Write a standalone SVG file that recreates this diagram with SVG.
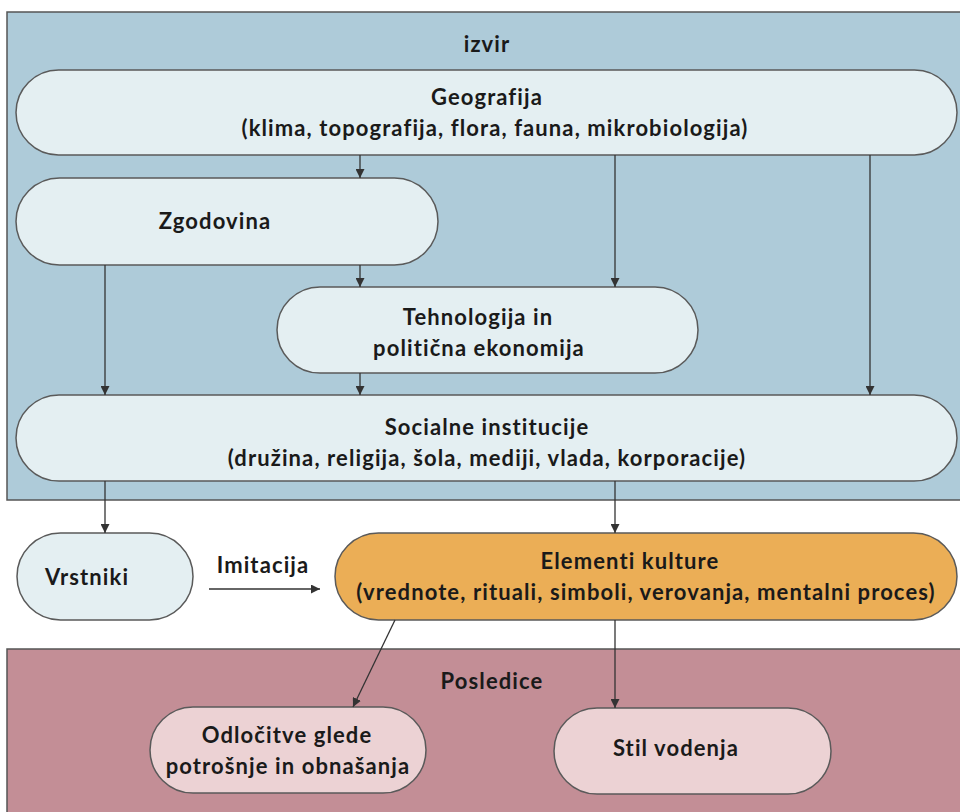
<svg xmlns="http://www.w3.org/2000/svg" width="960" height="812" viewBox="0 0 960 812">
<defs>
<marker id="ah" viewBox="0 0 10 10" refX="10" refY="5" markerWidth="9" markerHeight="9" markerUnits="userSpaceOnUse" orient="auto">
<path d="M0,0 L10,5 L0,10 z" fill="#333"/>
</marker>
<style>
.panel{stroke:#555;stroke-width:1.5}
.pill{fill:#E4EFF2;stroke:#5a5a5a;stroke-width:1.5}
.pink{fill:#ECD2D4;stroke:#5a5a5a;stroke-width:1.5}
.orange{fill:#EBAE56;stroke:#5a5a5a;stroke-width:1.5}
text{font-family:Lato,"Open Sans","Liberation Sans",sans-serif;font-weight:700;font-size:22px;letter-spacing:1.1px;fill:#1a1a1a;font-variant-ligatures:none;font-feature-settings:"liga" 0}
.c{text-anchor:middle}
.conn line{stroke:#333;stroke-width:1.3;marker-end:url(#ah)}
</style>
</defs>
<rect x="7" y="12" width="960" height="488" fill="#AECBD9" class="panel"/>
<rect x="7" y="649" width="960" height="170" fill="#C38E96" class="panel"/>
<text x="487" y="52" class="c">izvir</text>
<text x="492" y="689" class="c">Posledice</text>
<g id="geografija">
<rect x="16" y="70" width="941" height="85" rx="42.5" class="pill"/>
<text x="487" y="105" class="c">Geografija</text>
<text x="495" y="136" class="c">(klima, topografija, flora, fauna, mikrobiologija)</text>
</g>
<g id="zgodovina">
<rect x="16" y="178" width="422" height="87" rx="43.5" class="pill"/>
<text x="215" y="229" class="c">Zgodovina</text>
</g>
<g id="tehnologija">
<rect x="277" y="287" width="421" height="86" rx="43" class="pill"/>
<text x="478" y="325" class="c">Tehnologija in</text>
<text x="479" y="356" class="c">politična ekonomija</text>
</g>
<g id="socialne">
<rect x="16" y="395" width="941" height="86" rx="43" class="pill"/>
<text x="487" y="435" class="c">Socialne institucije</text>
<text x="487" y="466" class="c">(družina, religija, šola, mediji, vlada, korporacije)</text>
</g>
<g id="vrstniki">
<rect x="17" y="533" width="176" height="87" rx="43.5" class="pill"/>
<text x="87" y="585" class="c">Vrstniki</text>
</g>
<g id="elementi">
<rect x="335" y="533" width="622" height="87" rx="43.5" class="orange"/>
<text x="630" y="569" class="c">Elementi kulture</text>
<text x="646" y="600" class="c">(vrednote, rituali, simboli, verovanja, mentalni proces)</text>
</g>
<g id="odlocitve">
<rect x="150" y="707" width="276" height="86" rx="43" class="pink"/>
<text x="287" y="743" class="c">Odločitve glede</text>
<text x="288" y="774" class="c">potrošnje in obnašanja</text>
</g>
<g id="stil">
<rect x="554" y="708" width="277" height="86" rx="43" class="pink"/>
<text x="676" y="756" class="c">Stil vodenja</text>
</g>
<g id="connectors" class="conn">
<line x1="360" y1="155" x2="360" y2="178"/>
<line x1="360" y1="265" x2="360" y2="287"/>
<line x1="615" y1="155" x2="615" y2="287"/>
<line x1="870" y1="155" x2="870" y2="395"/>
<line x1="105" y1="265" x2="105" y2="395"/>
<line x1="360" y1="373" x2="360" y2="395"/>
<line x1="105" y1="481" x2="105" y2="533"/>
<line x1="615" y1="481" x2="615" y2="533"/>
<line x1="209" y1="589" x2="320" y2="589"/>
<line x1="395" y1="620" x2="353" y2="707"/>
<line x1="615" y1="620" x2="615" y2="708"/>
</g>
<text x="263" y="573" class="c">Imitacija</text>
</svg>
